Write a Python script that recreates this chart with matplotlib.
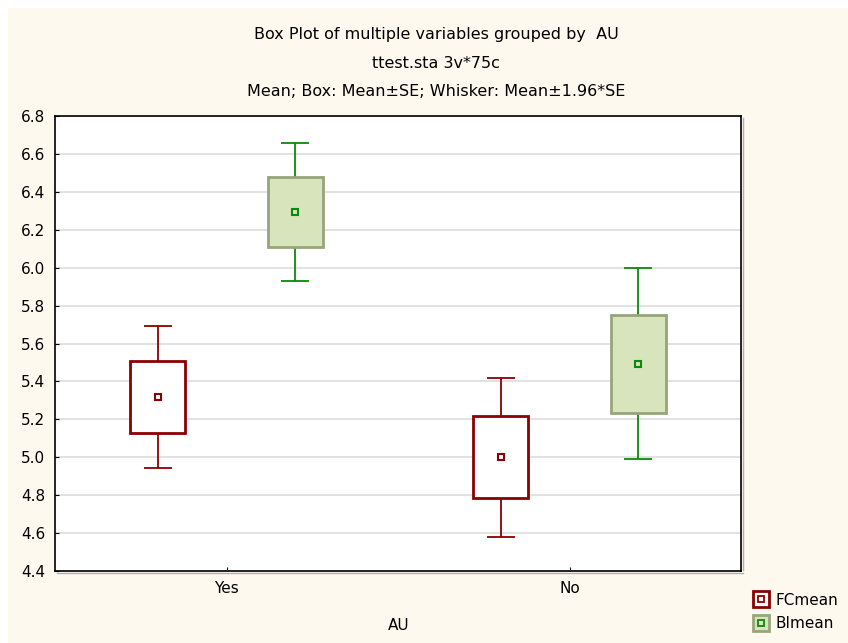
import numpy as np
import matplotlib.pyplot as plt
from matplotlib.patches import Rectangle
from matplotlib.lines import Line2D
from matplotlib.legend_handler import HandlerTuple

groups = ["Yes", "No"]
variables = ["FCmean", "BImean"]
means = {"FCmean": [5.318, 5.001], "BImean": [6.293, 5.492]}
ses = {"FCmean": [0.19, 0.214], "BImean": [0.185, 0.257]}
yticks = [4.4, 4.6, 4.8, 5.0, 5.2, 5.4, 5.6, 5.8, 6.0, 6.2, 6.4, 6.6, 6.8]

cream = "#FEF9EE"
styles = {
    "FCmean": dict(edge="#8B0000", fill="white", whisk="#8B0000", mfill="white"),
    "BImean": dict(edge="#98A57A", fill="#D8E4BC", whisk="#0A8A0A", mfill="#D8E4BC"),
}
offsets = {"FCmean": -0.2, "BImean": 0.2}

fig = plt.figure(figsize=(8.48, 6.43), dpi=100)
fig.patch.set_facecolor("white")
# cream panel (white strip at top and left)
fig.patches.append(Rectangle((8 / 848, 0), 1, 1 - 8 / 643, transform=fig.transFigure,
                             facecolor=cream, edgecolor="none", zorder=-10))

ax = fig.add_axes([55 / 848, 1 - 571 / 643, (741 - 55) / 848, (571 - 116) / 643])
ax.set_facecolor("white")

x = np.arange(len(groups))
for var in variables:
    st = styles[var]
    m = np.array(means[var])
    se = np.array(ses[var])
    xp = x + offsets[var]
    # whiskers
    ax.vlines(xp, m + se, m + 1.96 * se, color=st["whisk"], lw=1.3, zorder=2)
    ax.vlines(xp, m - 1.96 * se, m - se, color=st["whisk"], lw=1.3, zorder=2)
    ax.hlines(m + 1.96 * se, xp - 0.04, xp + 0.04, color=st["whisk"], lw=1.3, zorder=2)
    ax.hlines(m - 1.96 * se, xp - 0.04, xp + 0.04, color=st["whisk"], lw=1.3, zorder=2)
    # boxes
    ax.bar(xp, 2 * se, bottom=m - se, width=0.16, facecolor=st["fill"],
           edgecolor=st["edge"], linewidth=2, zorder=3)
    # mean points
    ax.plot(xp, m, ls="none", marker="s", ms=5, mfc=st["mfill"], mec=st["whisk"],
            mew=1.5, zorder=4)

ax.set_xlim(-0.5, 1.5)
ax.set_ylim(4.4, 6.8)
ax.set_xticks(x)
ax.set_xticklabels(groups)
ax.set_yticks(yticks)
ax.set_yticklabels([f"{v:.1f}" for v in yticks])
ax.tick_params(axis="both", direction="in", length=3, labelsize=11, colors="black")
ax.tick_params(axis="x", pad=7)
ax.tick_params(axis="y", pad=7)
ax.yaxis.grid(True, color="#DDDDDD", lw=1.2)
ax.set_axisbelow(True)
for sp in ax.spines.values():
    sp.set_linewidth(1.2)
    sp.set_color("black")

# small shadow on right and bottom of the frame
fig.lines.append(Line2D([742.5 / 848, 742.5 / 848], [1 - 570 / 643, 1 - 118 / 643],
                        transform=fig.transFigure, color="#B0B0B0", lw=1))
fig.lines.append(Line2D([57 / 848, 742.5 / 848], [1 - 572.5 / 643, 1 - 572.5 / 643],
                        transform=fig.transFigure, color="#B0B0B0", lw=1))

fig.text(436 / 848, 1 - 35 / 643, "Box Plot of multiple variables grouped by  AU",
         ha="center", va="center", fontsize=11.5)
fig.text(436 / 848, 1 - 64 / 643, "ttest.sta 3v*75c",
         ha="center", va="center", fontsize=11.5)
fig.text(436 / 848, 1 - 92 / 643, "Mean; Box: Mean±SE; Whisker: Mean±1.96*SE",
         ha="center", va="center", fontsize=11.5)

fig.text(399 / 848, 1 - 625 / 643, "AU", ha="center", va="center", fontsize=11)

handles = []
for var in variables:
    st = styles[var]
    big = Line2D([], [], ls="none", marker="s", ms=11, mfc=st["fill"], mec=st["edge"], mew=2)
    small = Line2D([], [], ls="none", marker="s", ms=4, mfc=st["mfill"], mec=st["whisk"], mew=1.3)
    handles.append((big, small))
fig.legend(handles, variables, handler_map={tuple: HandlerTuple(ndivide=1, pad=0)},
           loc="center left", bbox_to_anchor=(753 / 848, 1 - 612 / 643), frameon=False,
           fontsize=11, handlelength=1.0, handletextpad=0.5, labelspacing=0.55,
           borderpad=0, borderaxespad=0)

fig.savefig("out.png", dpi=100, facecolor=fig.get_facecolor())
